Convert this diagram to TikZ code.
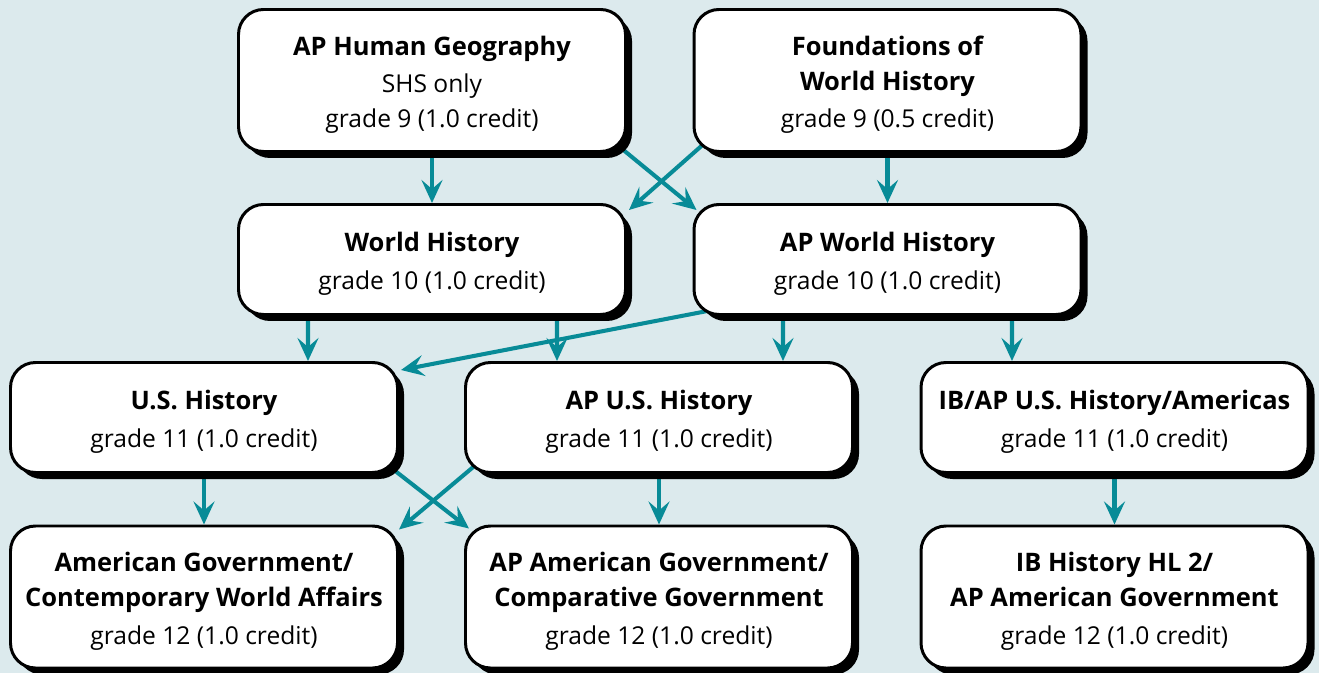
\documentclass[tikz,border=0pt]{standalone}
\usepackage{fontspec}
\setmainfont{Open Sans}
\usetikzlibrary{arrows.meta,shadows}
\definecolor{bgblue}{RGB}{220,234,237}
\definecolor{flowteal}{RGB}{8,139,151}
\pgfdeclarelayer{bg}
\pgfdeclarelayer{edges}
\pgfsetlayers{bg,edges,main}
\newcommand{\crsname}[1]{{\fontsize{14.5}{19.8}\selectfont\bfseries #1}}
% first title line sits a little lower in the box
\newcommand{\crstitle}[1]{\rule{0pt}{16pt}\crsname{#1}}

\begin{document}
\begin{tikzpicture}[
    course/.style={draw=black, line width=1.7pt, rounded corners=0.5cm, fill=white,
        minimum width=7.74cm, align=center, font=\fontsize{14}{19.8}\selectfont,
        drop shadow={shadow xshift=0.13cm, shadow yshift=-0.13cm, fill=black, opacity=1}},
    tallbox/.style={course, minimum height=2.84cm},
    flatbox/.style={course, minimum height=2.2cm},
    flow/.style={draw=flowteal, line width=2.3pt, -{Stealth[length=0.46cm, width=0.42cm, inset=0.18cm]}}
]
        \useasboundingbox (0,0) rectangle (26.38,-13.46);
        % background
        \begin{pgfonlayer}{bg}
            \fill[bgblue] (0,0) rectangle (26.38,-13.46);
        \end{pgfonlayer}
        % grade 9
        \node[tallbox] (aphg) at (8.64,-1.61) {\crstitle{AP Human Geography}\\[1.5pt]SHS only\\grade 9 (1.0 credit)};
        \node[tallbox] (fwh) at (17.75,-1.61) {\crstitle{Foundations of}\\\crsname{World History}\\[1.5pt]grade 9 (0.5 credit)};
        % grade 10
        \node[flatbox] (wh) at (8.64,-5.19) {\crstitle{World History}\\[1.5pt]grade 10 (1.0 credit)};
        \node[flatbox] (apwh) at (17.75,-5.19) {\crstitle{AP World History}\\[1.5pt]grade 10 (1.0 credit)};
        % grade 11
        \node[flatbox] (ush) at (4.08,-8.35) {\crstitle{U.S. History}\\[1.5pt]grade 11 (1.0 credit)};
        \node[flatbox] (apush) at (13.18,-8.35) {\crstitle{AP U.S. History}\\[1.5pt]grade 11 (1.0 credit)};
        \node[flatbox] (ibush) at (22.29,-8.35) {\crstitle{IB/AP U.S. History/Americas}\\[1.5pt]grade 11 (1.0 credit)};
        % grade 12
        \node[tallbox] (amgov) at (4.08,-11.94) {\crstitle{American Government/}\\\crsname{Contemporary World Affairs}\\[1.5pt]grade 12 (1.0 credit)};
        \node[tallbox] (apamgov) at (13.18,-11.94) {\crstitle{AP American Government/}\\\crsname{Comparative Government}\\[1.5pt]grade 12 (1.0 credit)};
        \node[tallbox] (ibhl) at (22.29,-11.94) {\crstitle{IB History HL 2/}\\\crsname{AP American Government}\\[1.5pt]grade 12 (1.0 credit)};
        \begin{pgfonlayer}{edges}
            % straight drops under the middle of a box
            \foreach \a/\b in {aphg/wh, fwh/apwh, ush/amgov, apush/apamgov, ibush/ibhl}
                \draw[flow] (\a.south) -- (\b.north);
            % drops set off from the middle
            \foreach \a/\ax/\b/\bx in {wh/-2.48/ush/2.08, wh/2.5/apush/-2.04, apwh/-2.09/apush/2.48, apwh/2.49/ibush/-2.05}
                \draw[flow] ([xshift=\ax cm]\a.south) -- ([xshift=\bx cm]\b.north);
            % crossing arrows
            \draw[flow] ([shift={(-0.28,0.23)}]aphg.south east) -- ([shift={(0.08,-0.14)}]apwh.north west);
            \draw[flow] ([shift={(0.28,0.23)}]fwh.south west) -- ([shift={(0.04,-0.14)}]wh.north east);
            \draw[flow] ([shift={(0.3,0.1)}]apwh.south west) -- ([shift={(0.04,-0.18)}]ush.north east);
            \draw[flow] ([shift={(-0.28,0.22)}]ush.south east) -- ([shift={(0.1,-0.08)}]apamgov.north west);
            \draw[flow] ([shift={(0.28,0.22)}]apush.south west) -- ([shift={(0,-0.1)}]amgov.north east);
        \end{pgfonlayer}
    \end{tikzpicture}
\end{document}
